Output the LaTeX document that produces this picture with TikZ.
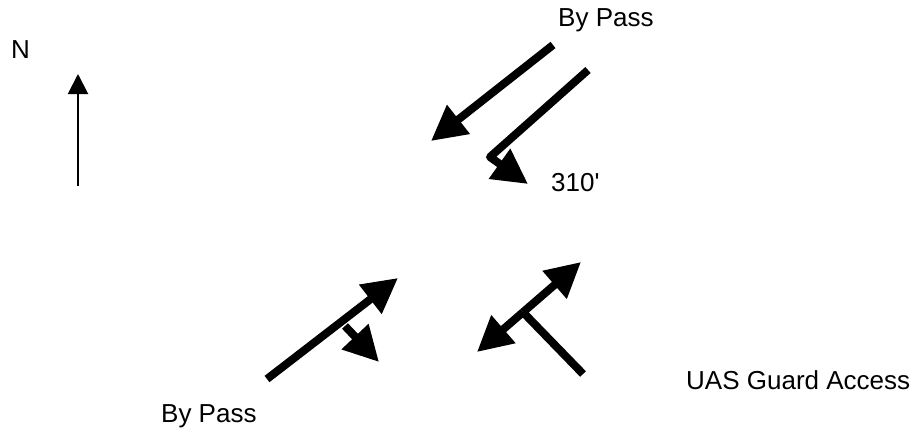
\documentclass[tikz,border=0pt]{standalone}
\usepackage{fontspec}
\newfontfamily\labfont{Liberation Sans}
\usetikzlibrary{arrows.meta}
\tikzset{
  road/.style={line width=8pt,line join=round,-{Triangle[length=35pt,width=35pt]}},
  plainroad/.style={line width=8pt},
  north/.style={line width=2pt,-{Triangle[length=20pt,width=20pt]}},
  lab/.style={inner sep=0pt,anchor=base west,font=\labfont\fontsize{26}{30}\selectfont}
}
\begin{document}
\begin{tikzpicture}[x=1pt,y=-1pt]
\useasboundingbox (0,0) rectangle (918,428);
\node[lab] (bp1) at (558,27) {By Pass};
\node[lab] (n) at (11,59) {N};
\node[lab] (d) at (551,191) {310'};
\node[lab] (bp2) at (161,422) {By Pass};
\node[lab] (uas) at (686,389) {UAS Guard Access};
\coordinate (a1s) at (553,45);
\coordinate (a1e) at (431,141);
\draw[road] (a1s) -- (a1e);
\coordinate (a2s) at (588,70);
\coordinate (a2m) at (490,157);
\coordinate (a2e) at (528,184);
\draw[road] (a2s) -- (a2m) -- (a2e);
\coordinate (a3s) at (267,379);
\coordinate (a3e) at (398,278);
\draw[road] (a3s) -- (a3e);
\coordinate (b3s) at (345,326);
\coordinate (b3e) at (379,362);
\draw[road] (b3s) -- (b3e);
\coordinate (a4j) at (523,312.2);
\coordinate (a4e) at (581,262);
\coordinate (a4w) at (477,352);
\draw[road] (a4j) -- (a4e);
\draw[road] (a4j) -- (a4w);
\coordinate (b4e) at (583,374);
\draw[plainroad] (a4j) -- (b4e);
\coordinate (ns) at (78,186);
\coordinate (ne) at (78,74);
\draw[north] (ns) -- (ne);
\end{tikzpicture}
\end{document}
